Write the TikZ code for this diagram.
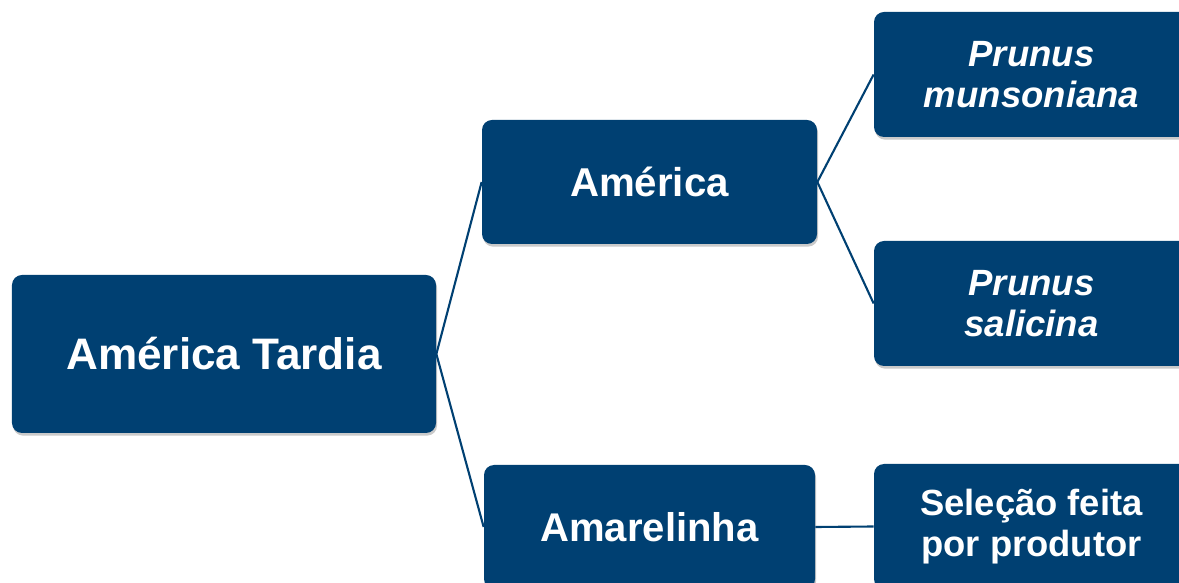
\documentclass[tikz,border=0pt]{standalone}
\usepackage{fontspec}
\setmainfont{Liberation Sans}
\usetikzlibrary{shadows}
\definecolor{navy}{RGB}{0,64,114}

\tikzstyle{box} = [rectangle, fill=navy, text=white, font=\bfseries, rounded corners=2mm,
align=center, inner sep=0pt, drop shadow={shadow xshift=0.6pt, shadow yshift=-1.5pt, opacity=0.35, fill=black!60}]
\tikzstyle{line} = [draw=navy, line width=1.2pt]

\begin{document}
\begin{tikzpicture}[x=0.2mm, y=-0.2mm]

\useasboundingbox (0,0) rectangle (1179,583);

% Root
\node[box, minimum width=8.48cm, minimum height=3.16cm, font=\bfseries\fontsize{25.1}{29}\selectfont](tardia) at (224,354) {Am\'erica Tardia};

% Second level
\node[box, minimum width=6.7cm, minimum height=2.48cm, font=\bfseries\fontsize{22.9}{27}\selectfont](america) at (649.5,182) {Am\'erica};
\node[box, minimum width=6.62cm, minimum height=2.48cm, font=\bfseries\fontsize{22.8}{27}\selectfont](amarelinha) at (649.5,527) {Amarelinha};

% Third level
\node[box, minimum width=6.3cm, minimum height=2.5cm, font=\bfseries\itshape\fontsize{20.8}{23.5}\selectfont](munsoniana) at (1031.5,74.5) {Prunus\\munsoniana};
\node[box, minimum width=6.3cm, minimum height=2.5cm, font=\bfseries\itshape\fontsize{20.8}{23.5}\selectfont](salicina) at (1031.5,303.5) {Prunus\\salicina};
\node[box, minimum width=6.3cm, minimum height=2.5cm, font=\bfseries\fontsize{20.7}{23.5}\selectfont](selecao) at (1031.5,526.5) {Sele\c{c}\~ao feita\\por produtor};

% Connectors
\path[line] (tardia.east) -- (america.west);
\path[line] (tardia.east) -- (amarelinha.west);
\path[line] (america.east) -- (munsoniana.west);
\path[line] (america.east) -- (salicina.west);
\path[line] (amarelinha.east) -- (selecao.west);

\end{tikzpicture}
\end{document}
